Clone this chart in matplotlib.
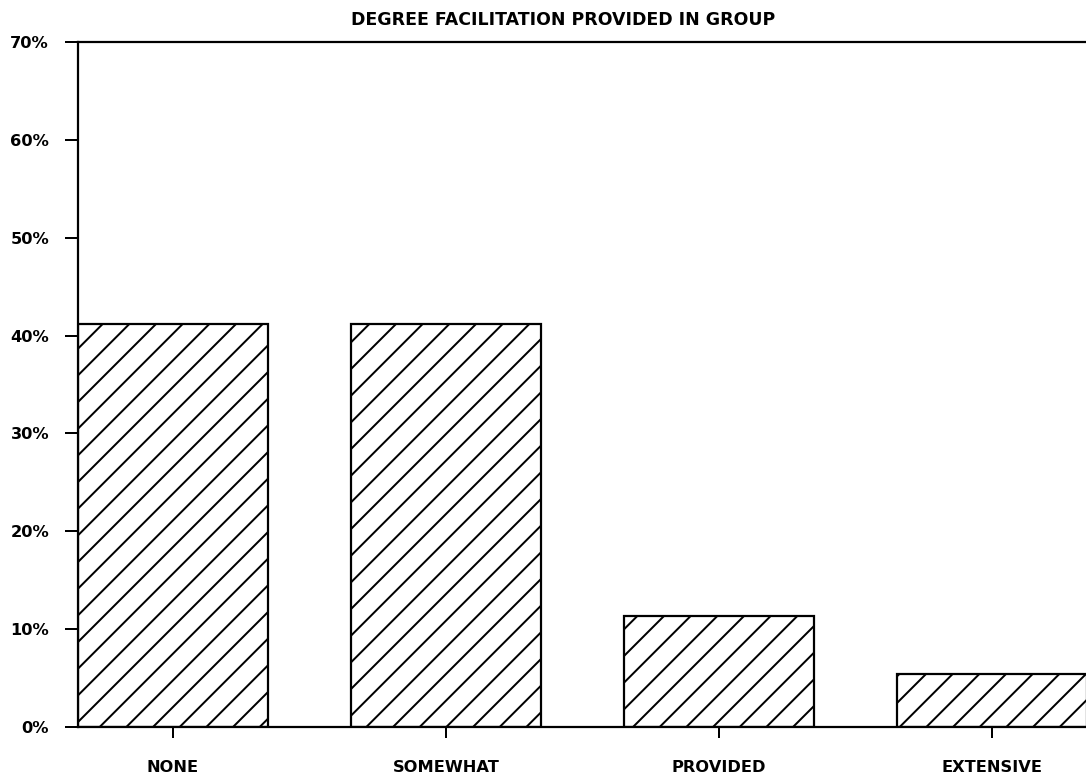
import matplotlib
matplotlib.use("Agg")
import matplotlib.pyplot as plt

categories = ["NONE", "SOMEWHAT", "PROVIDED", "EXTENSIVE"]
percent = [41.2, 41.2, 11.3, 5.4]
yticks = [0, 10, 20, 30, 40, 50, 60, 70]
ytick_labels = ["0%", "10%", "20%", "30%", "40%", "50%", "60%", "70%"]
title = "DEGREE FACILITATION PROVIDED IN GROUP"

plt.rcParams['hatch.linewidth'] = 0.9
fig = plt.figure(figsize=(1086/160, 779/160), dpi=160)
ax = fig.add_axes([78/1086, 1-727/779, 1-78/1086, (727-42)/779])

x = range(len(categories))
ax.bar(x, percent, width=0.695, facecolor='white', edgecolor='black',
       linewidth=1.0, hatch='//')

ax.set_xlim(-0.3475, 3.345)
ax.set_ylim(0, 70)
ax.set_yticks(yticks)
ax.set_yticklabels(ytick_labels, fontsize=7.3, fontweight='bold')
ax.set_xticks(list(x))
ax.set_xticklabels(categories, fontsize=7.3, fontweight='bold')
ax.tick_params(axis='y', direction='out', length=6, width=0.9, pad=7)
ax.tick_params(axis='x', direction='out', length=5, width=0.9, pad=10)
ax.spines['right'].set_visible(False)
for s in ['left', 'top', 'bottom']:
    ax.spines[s].set_linewidth(1.0)

fig.text(563/1086, 1-20/779, title, ha='center', va='center',
         fontsize=7.8, fontweight='bold')

fig.savefig("out.png", dpi=160)
